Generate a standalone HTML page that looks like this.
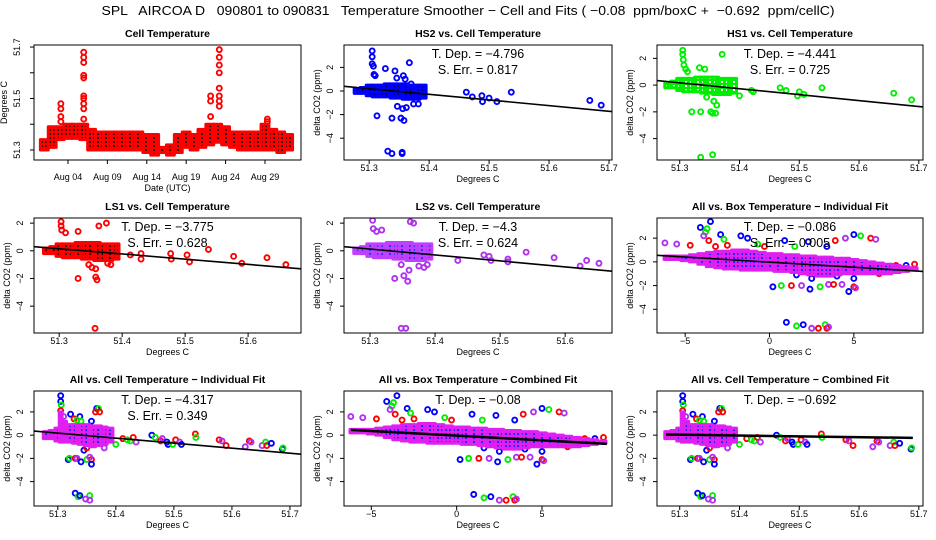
<!DOCTYPE html>
<html><head><meta charset="utf-8">
<style>
html,body{margin:0;padding:0;background:#fff;}
svg{display:block;font-family:"Liberation Sans",Arial,sans-serif;}
.pre{white-space:pre;}
</style></head>
<body>
<svg id="chart" width="936" height="540" viewBox="0 0 936 540" xmlns="http://www.w3.org/2000/svg">
<defs>
<pattern id="p-red" width="4" height="4" patternUnits="userSpaceOnUse"><rect width="4" height="4" fill="#ff0000"/><rect x="1" y="1" width="2" height="2" fill="#300000"/></pattern>
<pattern id="p-blue" width="4" height="4" patternUnits="userSpaceOnUse"><rect width="4" height="4" fill="#0000ff"/><rect x="1" y="1" width="2" height="2" fill="#000060"/></pattern>
<pattern id="p-green" width="4" height="4" patternUnits="userSpaceOnUse"><rect width="4" height="4" fill="#00ee00"/><rect x="1" y="1" width="2" height="2" fill="#ffffff"/></pattern>
<pattern id="p-purple" width="4" height="4" patternUnits="userSpaceOnUse"><rect width="4" height="4" fill="#c040ff"/><rect x="1" y="1" width="2" height="2" fill="#3030ff"/></pattern>
<pattern id="p-mix" width="4" height="4" patternUnits="userSpaceOnUse"><rect width="4" height="4" fill="#e020f0"/><rect x="1" y="1" width="2" height="2" fill="#2020ff"/></pattern>
</defs>
<text class="pre" xml:space="preserve" x="468" y="15" text-anchor="middle" font-size="13" textLength="733" lengthAdjust="spacingAndGlyphs">SPL   AIRCOA D   090801 to 090831   Temperature Smoother − Cell and Fits ( −0.08  ppm/boxC +  −0.692  ppm/cellC)</text>
</svg>
<script>
// ---------- data ----------
const tDays = [1,2,3,4,5,6,7,8,9,10,11,12,13,14,15,16,17,18,19,20,21,22,23,24,25,26,27,28,29,30,31,32];
const tLo = [51.30,51.31,51.34,51.345,51.345,51.34,51.30,51.30,51.30,51.30,51.30,51.30,51.30,51.29,51.28,51.29,51.28,51.29,51.31,51.30,51.31,51.32,51.33,51.32,51.31,51.30,51.30,51.30,51.30,51.30,51.29,51.30];
const tHi = [51.34,51.39,51.39,51.40,51.40,51.40,51.38,51.37,51.37,51.37,51.37,51.37,51.37,51.36,51.36,51.31,51.32,51.36,51.37,51.36,51.38,51.40,51.40,51.39,51.37,51.37,51.37,51.37,51.40,51.38,51.37,51.36];
const spikeT = [3.1,3.1,3.1,3.1,6.0,6.0,6.0,6.0,6.0,6.0,6.0,6.0,6.0,6.0,22.1,22.1,22.1,23.2,23.2,23.2,23.2,23.2,23.2,23.2,23.2,29.3,29.3];
const spikeV = [51.48,51.46,51.43,51.41,51.68,51.66,51.64,51.59,51.58,51.51,51.50,51.48,51.46,51.42,51.51,51.49,51.43,51.69,51.66,51.63,51.60,51.54,51.51,51.49,51.47,51.42,51.41];
const dateTicks = [4,9,14,19,24,29];
const dateLabels = ["Aug 04","Aug 09","Aug 14","Aug 19","Aug 24","Aug 29"];

const cellBandX = [51.28,51.29,51.30,51.31,51.32,51.33,51.34,51.35,51.36,51.37,51.38,51.39];
const cellBandLo = [-0.2,-0.2,-0.4,-0.5,-0.5,-0.5,-0.6,-0.6,-0.7,-0.7,-0.7,-0.6];
const cellBandHi = [0.2,0.3,0.5,0.5,0.5,0.6,0.6,0.6,0.6,0.5,0.5,0.5];

const allBandX = [51.28,51.29,51.30,51.305,51.31,51.32,51.33,51.34,51.35,51.36,51.37,51.38,51.39];
const allBandLo = [-0.3,-0.3,-0.5,-0.6,-0.6,-0.6,-0.7,-0.8,-0.9,-1.0,-0.9,-0.8,-0.6];
const allBandHi = [0.3,0.4,0.6,2.0,1.2,0.9,0.9,0.9,0.9,0.8,0.8,0.7,0.6];

const boxBandX = [-6,-5.5,-5,-4.5,-4,-3.5,-3,-2.5,-2,-1.5,-1,-0.5,0,0.5,1,1.5,2,2.5,3,3.5,4,4.5,5,5.5,6,6.5,7,7.5,8,8.5];
const boxBandHi = [0.5,0.5,0.5,0.6,0.7,0.8,0.9,0.9,1.0,1.0,0.9,0.8,0.7,0.7,0.6,0.6,0.5,0.5,0.4,0.4,0.3,0.3,0.2,0.1,0.0,-0.1,-0.2,-0.3,-0.4,-0.5];
const boxBandLo = [0.2,0.2,0.1,0.0,-0.2,-0.4,-0.5,-0.6,-0.6,-0.7,-0.7,-0.7,-0.7,-0.8,-0.8,-0.9,-1.0,-1.1,-1.2,-1.2,-1.1,-1.0,-1.0,-1.0,-1.0,-1.0,-1.0,-0.9,-0.8,-0.7];

const hs2X = [51.305,51.305,51.305,51.307,51.308,51.31,51.327,51.343,51.346,51.357,51.36,51.367,51.37,51.313,51.338,51.353,51.358,51.347,51.362,51.356,51.374,51.382,51.331,51.338,51.355,51.355,51.462,51.472,51.488,51.489,51.50,51.513,51.537,51.668,51.687];
const hs2Y = [3.4,2.9,2.3,2.1,1.4,1.3,1.9,1.7,1.1,1.3,1.0,2.4,0.6,-2.1,-2.3,-2.3,-2.5,-1.3,-1.4,-1.5,-1.1,-1.1,-5.1,-5.3,-5.2,-5.3,-0.1,-0.5,-0.4,-0.9,-0.6,-0.9,-0.1,-0.8,-1.2];
const hs1X = [51.305,51.305,51.306,51.307,51.31,51.313,51.371,51.333,51.342,51.320,51.335,51.352,51.355,51.36,51.357,51.362,51.345,51.335,51.355,51.40,51.42,51.423,51.468,51.478,51.497,51.50,51.508,51.538,51.658,51.688];
const hs1Y = [2.6,2.3,1.9,1.5,1.2,1.0,2.3,1.3,1.2,-2.0,-2.0,-2.0,-2.1,-2.1,-1.2,-1.5,-0.9,-5.4,-5.2,-0.8,-0.4,-0.5,-0.2,-0.4,-0.8,-0.5,-0.7,-0.2,-0.6,-1.1];
const ls1X = [51.303,51.303,51.304,51.31,51.33,51.375,51.363,51.33,51.347,51.352,51.358,51.36,51.358,51.377,51.382,51.357,51.413,51.43,51.43,51.477,51.478,51.503,51.507,51.537,51.577,51.59,51.63,51.66];
const ls1Y = [2.1,1.8,1.5,1.3,1.4,2.0,1.8,-2.0,-1.0,-1.2,-1.9,-2.1,-1.3,-0.9,-1.0,-5.6,-0.3,-0.2,-0.6,-0.2,-0.6,-0.3,-0.8,0.1,-0.4,-0.9,-0.5,-1.0];
const ls2X = [51.304,51.305,51.31,51.318,51.362,51.367,51.338,51.352,51.358,51.36,51.348,51.375,51.383,51.388,51.348,51.355,51.435,51.475,51.483,51.486,51.512,51.512,51.54,51.583,51.623,51.633,51.652];
const ls2Y = [2.2,1.6,1.4,1.5,2.1,2.0,-2.0,-1.8,-2.2,-1.4,-1.0,-1.1,-1.2,-1.0,-5.6,-5.6,-0.7,-0.3,-0.4,-0.7,-0.6,-0.8,-0.1,-0.5,-1.1,-0.7,-0.9];

const allCellX = [51.305,51.305,51.306,51.305,51.31,51.322,51.328,51.338,51.34,51.333,51.358,51.367,51.37,51.365,51.372,51.375,51.318,51.32,51.33,51.333,51.34,51.35,51.358,51.358,51.355,51.345,51.35,51.38,51.33,51.335,51.338,51.355,51.348,51.355,51.40,51.412,51.42,51.425,51.43,51.435,51.462,51.468,51.477,51.48,51.488,51.49,51.498,51.503,51.51,51.513,51.537,51.538,51.578,51.583,51.59,51.623,51.63,51.633,51.652,51.658,51.66,51.668,51.687,51.688];
const allCellY = [3.4,2.9,2.6,2.1,1.6,1.8,1.4,1.6,1.2,1.3,1.2,2.3,2.3,2.0,2.0,0.6,-2.1,-2.0,-2.0,-2.0,-2.3,-2.1,-2.1,-2.5,-1.9,-1.3,-1.1,-1.1,-5.0,-5.3,-5.2,-5.2,-5.5,-5.6,-0.8,-0.3,-0.4,-0.5,-0.2,-0.6,0.0,-0.2,-0.5,-0.3,-0.6,-0.8,-0.8,-0.4,-0.6,-0.8,0.1,-0.2,-0.4,-0.5,-0.9,-1.0,-0.5,-0.6,-0.9,-0.6,-0.9,-0.7,-1.2,-1.1];
const allCellC = ["b","b","g","r","p","b","r","b","g","g","b","b","g","r","r","g","b","g","r","p","b","g","r","b","p","b","r","p","b","g","b","g","p","p","g","r","g","g","r","p","b","g","r","p","b","b","g","r","p","b","r","g","r","p","r","p","r","p","p","g","r","b","b","g"];

const allBoxX = [-6.2,-5.5,-4.7,-4.1,-3.8,-3.7,-3.5,-3.9,-3.6,-3.2,-2.9,-2.7,-2.5,-1.7,-1.3,-0.7,-0.3,0.9,1.5,2.3,3.4,3.9,4.5,5.0,5.4,6.0,6.3,0.2,0.7,1.3,1.9,2.4,3.0,3.5,3.8,4.3,4.7,5.0,5.1,1.0,1.6,2.0,2.5,2.9,3.3,3.4,3.5,1.6,2.5,4.0,5.0,6.5,-1.0,0.5,7.5,8.1,8.6];
const allBoxY = [1.6,1.5,1.4,2.9,2.5,2.8,3.4,2.2,1.8,1.3,2.3,1.9,1.4,2.2,2.0,1.5,1.3,1.8,1.3,1.7,1.3,1.8,2.0,2.3,2.2,2.0,1.9,-2.1,-2.0,-2.0,-2.0,-2.3,-2.1,-1.9,-1.9,-1.9,-2.5,-2.1,-2.2,-5.1,-5.4,-5.3,-5.6,-5.6,-5.3,-5.6,-5.5,-1.1,-1.4,-1.2,-1.4,-1.0,0.7,0.5,-0.3,-0.3,-0.2];
const allBoxC = ["p","p","r","b","g","g","b","p","r","r","b","g","r","b","b","g","r","b","g","b","b","r","p","b","g","r","p","b","g","r","p","b","g","p","r","p","b","r","p","b","g","b","p","r","g","r","p","b","b","b","b","r","r","b","r","b","r"];

const fitSlope = [-4.796,-4.441,-3.775,-4.3,-0.086,-4.317,-0.08,-0.692];
const fitX0 = [51.258,51.26,51.26,51.26,-6.67,51.259,-6.2,51.277];
const fitY0 = [0.4,0.35,0.3,0.3,0.55,0.35,0.45,0.05];
const fitX1 = [51.705,51.71,51.684,51.672,9.1,51.719,8.8,51.69];
const tDepText = ["−4.796","−4.441","−3.775","−4.3","−0.086","−4.317","−0.08","−0.692"];
const sErrText = ["0.817","0.725","0.628","0.624","0.005","0.349",null,null];

const cellTicks5 = [51.3,51.4,51.5,51.6,51.7];
const cellTicks4 = [51.3,51.4,51.5,51.6];
const boxTicks = [-5,0,5];
const co2Ticks = [-4,-2,0,2];
const tempTicks = [51.3,51.4,51.5,51.6,51.7];
const tempTickLabels = ["51.3","","51.5","","51.7"];

// ---------- rendering ----------
const NS = "http://www.w3.org/2000/svg";
const svg = document.getElementById("chart");
const COLORS = {b:"#0000ff", g:"#00ee00", r:"#ff0000", p:"#b030f0"};
function el(tag, attrs, parent){ const e=document.createElementNS(NS,tag); for(const k in attrs) e.setAttribute(k,attrs[k]); (parent||svg).appendChild(e); return e; }
function fmt(v){ return (v<0?"−":"")+Math.abs(v); }

function makePanel(P){
  const g = el("g",{});
  
  
  const sx = v => P.l + (v-P.xd[0])/(P.xd[1]-P.xd[0])*(P.r-P.l);
  const sy = v => P.b - (v-P.yd[0])/(P.yd[1]-P.yd[0])*(P.b-P.t);
  const clipId = "clip-"+P.name;
  const cp = el("clipPath",{id:clipId},g); el("rect",{x:P.l,y:P.t,width:P.r-P.l,height:P.b-P.t},cp);
  const marks = el("g",{"clip-path":"url(#"+clipId+")"},g);
  
  
  P.draw(marks, sx, sy);
  const box = el("rect",{x:P.l,y:P.t,width:P.r-P.l,height:P.b-P.t,fill:"none",stroke:"#000","stroke-width":1},g);
  
  
  const xa = el("g",{},g);
  
  
  const xs = P.xt.map(sx);
  el("line",{x1:xs[0],x2:xs[xs.length-1],y1:P.b,y2:P.b,stroke:"#000"},xa);
  P.xt.forEach((v,i)=>{
    el("line",{x1:sx(v),x2:sx(v),y1:P.b,y2:P.b+4,stroke:"#000"},xa);
    const t = el("text",{x:sx(v),y:P.b+P.xlo,"text-anchor":"middle","font-size":9},xa);
    t.textContent = P.xl ? P.xl[i] : fmt(v);
  });
  const xt = el("text",{x:(P.l+P.r)/2,y:P.b+P.xlo+11,"text-anchor":"middle","font-size":9},xa);
  xt.textContent = P.xtitle;
  
  
  const ya = el("g",{},g);
  
  
  const ys = P.yt.map(sy);
  el("line",{x1:P.l,x2:P.l,y1:ys[0],y2:ys[ys.length-1],stroke:"#000"},ya);
  P.yt.forEach((v,i)=>{
    el("line",{x1:P.l-4,x2:P.l,y1:sy(v),y2:sy(v),stroke:"#000"},ya);
    const lab = P.yl ? P.yl[i] : fmt(v);
    if(lab){ const x=P.l-P.ylo, y=sy(v);
      const t = el("text",{x:x,y:y,"text-anchor":"middle","font-size":9,transform:"rotate(-90 "+x+" "+y+")"},ya); t.textContent=lab; }
  });
  const yx = P.l-P.yto, yy=(P.t+P.b)/2;
  const ytt = el("text",{x:yx,y:yy,"text-anchor":"middle","font-size":9,transform:"rotate(-90 "+yx+" "+yy+")"},ya);
  ytt.textContent = P.ytitle;
  
  
  const tt = el("text",{x:(P.l+P.r)/2,y:P.t-8,"text-anchor":"middle","font-size":10.5,"font-weight":"bold"},g);
  tt.textContent = P.title;
  
  
  if(P.fit!==undefined){
    const k=P.fit;
    const y1 = fitY0[k] + fitSlope[k]*(fitX1[k]-fitX0[k]);
    const fl = el("line",{x1:sx(fitX0[k]),y1:sy(fitY0[k]),x2:sx(fitX1[k]),y2:sy(y1),stroke:"#000","stroke-width":P.fitW||1.6},marks);
    
    
    const cx=(P.l+P.r)/2;
    const a = el("text",{x:cx,y:P.t+13,"text-anchor":"middle","font-size":12.5},g);
    a.textContent = "T. Dep. =  "+tDepText[k];
    
    
    if(sErrText[k]){
      const b = el("text",{x:cx,y:P.t+29,"text-anchor":"middle","font-size":12.5},g);
      b.textContent = "S. Err. =  "+sErrText[k];
      
      
    }
  }
}

function drawBand(g,sx,sy,X,Lo,Hi,pat,edge){
  X.forEach((x,i)=>{
    const w0 = i>0 ? (x-X[i-1])/2 : (X[1]-X[0])/2;
    const w1 = i<X.length-1 ? (X[i+1]-x)/2 : w0;
    const xa=sx(x-w0), xb=sx(x+w1);
    const r = el("rect",{x:xa,y:sy(Hi[i]),width:Math.max(1,xb-xa),height:Math.max(1,sy(Lo[i])-sy(Hi[i])),fill:"url(#"+pat+")",stroke:edge,"stroke-width":3,"stroke-linejoin":"round"},g);
    
    
  });
}
function drawPts(g,sx,sy,X,Y,C,col){
  X.forEach((x,i)=>{
    const c = el("circle",{cx:sx(x),cy:sy(Y[i]),r:2.5,fill:"none",stroke:C?COLORS[C[i]]:col,"stroke-width":1.9},g);
    
    
  });
}

const colL=[34,344,657], colR=[301,612,923];
const rowT=[45,218,391], rowB=[160,333,506];
const cellAxis = {xtitle:"Degrees C", ytitle:"delta CO2 (ppm)", yt:co2Ticks, ylo:11, yto:24, xlo:11};

makePanel({name:"cell-temperature-panel", l:colL[0], r:colR[0], t:rowT[0], b:rowB[0],
  xd:[-0.31,33.57], yd:[51.261,51.708], xt:dateTicks, xl:dateLabels, yt:tempTicks, yl:tempTickLabels,
  xtitle:"Date (UTC)", ytitle:"Degrees C", title:"Cell Temperature", ylo:14, yto:27, xlo:20,
  draw:(g,sx,sy)=>{
    tDays.forEach((t,i)=>{
      const r = el("rect",{x:sx(t-0.5),y:sy(tHi[i]),width:sx(t+0.5)-sx(t-0.5),height:sy(tLo[i])-sy(tHi[i]),fill:"url(#p-red)",stroke:"#ff0000","stroke-width":3,"stroke-linejoin":"round"},g);
      
      
    });
    drawPts(g,sx,sy,spikeT,spikeV,null,"#ff0000");
  }});

makePanel(Object.assign({name:"hs2-panel", l:colL[1], r:colR[1], t:rowT[0], b:rowB[0], xd:[51.258,51.705], yd:[-5.85,3.9], xt:cellTicks5, title:"HS2 vs. Cell Temperature", fit:0,
  draw:(g,sx,sy)=>{ drawBand(g,sx,sy,cellBandX,cellBandLo,cellBandHi,"p-blue","#0000ff"); drawPts(g,sx,sy,hs2X,hs2Y,null,"#0000ff"); }},cellAxis));

makePanel(Object.assign({name:"hs1-panel", l:colL[2], r:colR[2], t:rowT[0], b:rowB[0], xd:[51.262,51.707], yd:[-5.6,3.0], xt:cellTicks5, title:"HS1 vs. Cell Temperature", fit:1,
  draw:(g,sx,sy)=>{ drawBand(g,sx,sy,cellBandX,cellBandLo,cellBandHi,"p-green","#00ee00"); drawPts(g,sx,sy,hs1X,hs1Y,null,"#00ee00"); }},cellAxis));

makePanel(Object.assign({name:"ls1-panel", l:colL[0], r:colR[0], t:rowT[1], b:rowB[1], xd:[51.26,51.684], yd:[-5.94,2.37], xt:cellTicks4, title:"LS1 vs. Cell Temperature", fit:2,
  draw:(g,sx,sy)=>{ drawBand(g,sx,sy,cellBandX,cellBandLo,cellBandHi,"p-red","#ff0000"); drawPts(g,sx,sy,ls1X,ls1Y,null,"#ff0000"); }},cellAxis));

makePanel(Object.assign({name:"ls2-panel", l:colL[1], r:colR[1], t:rowT[1], b:rowB[1], xd:[51.26,51.672], yd:[-5.94,2.37], xt:cellTicks4, title:"LS2 vs. Cell Temperature", fit:3,
  draw:(g,sx,sy)=>{ drawBand(g,sx,sy,cellBandX,cellBandLo,cellBandHi,"p-purple","#c040ff"); drawPts(g,sx,sy,ls2X,ls2Y,null,"#b030f0"); }},cellAxis));

makePanel(Object.assign({name:"all-box-individual-panel", l:colL[2], r:colR[2], t:rowT[1], b:rowB[1], xd:[-6.67,9.1], yd:[-6.0,3.7], xt:boxTicks, title:"All vs. Box Temperature − Individual Fit", fit:4,
  draw:(g,sx,sy)=>{ drawPts(g,sx,sy,allBoxX,allBoxY,allBoxC); drawBand(g,sx,sy,boxBandX,boxBandLo,boxBandHi,"p-mix","#e020f0"); }},cellAxis));

makePanel(Object.assign({name:"all-cell-individual-panel", l:colL[0], r:colR[0], t:rowT[2], b:rowB[2], xd:[51.259,51.719], yd:[-6.1,3.8], xt:cellTicks5, title:"All vs. Cell Temperature − Individual Fit", fit:5,
  draw:(g,sx,sy)=>{ drawPts(g,sx,sy,allCellX,allCellY,allCellC); drawBand(g,sx,sy,allBandX,allBandLo,allBandHi,"p-mix","#e020f0"); }},cellAxis));

makePanel(Object.assign({name:"all-box-combined-panel", l:colL[1], r:colR[1], t:rowT[2], b:rowB[2], xd:[-6.6,9.1], yd:[-6.1,3.8], xt:boxTicks, title:"All vs. Box Temperature − Combined Fit", fit:6, fitW:2.5,
  draw:(g,sx,sy)=>{ drawPts(g,sx,sy,allBoxX,allBoxY,allBoxC); drawBand(g,sx,sy,boxBandX,boxBandLo,boxBandHi,"p-mix","#e020f0"); }},cellAxis));

makePanel(Object.assign({name:"all-cell-combined-panel", l:colL[2], r:colR[2], t:rowT[2], b:rowB[2], xd:[51.262,51.707], yd:[-6.1,3.8], xt:cellTicks5, title:"All vs. Cell Temperature − Combined Fit", fit:7, fitW:2.5,
  draw:(g,sx,sy)=>{ drawPts(g,sx,sy,allCellX,allCellY,allCellC); drawBand(g,sx,sy,allBandX,allBandLo,allBandHi,"p-mix","#e020f0"); }},cellAxis));
</script>
</body></html>
